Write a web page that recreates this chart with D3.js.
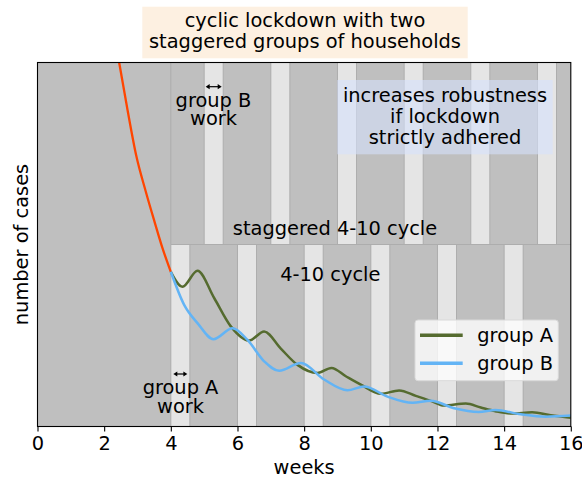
<!DOCTYPE html>
<html>
<head>
<meta charset="utf-8">
<script src="https://cdn.jsdelivr.net/npm/d3@7"></script>
<style>
  html, body { margin: 0; padding: 0; background: #ffffff; }
  svg { display: block; }
  text { font-family: "DejaVu Sans", sans-serif; fill: #000; }
</style>
</head>
<body>
<svg id="chart" width="582" height="479"></svg>
<script>
// ---------- data ----------
const weekTicks = [0, 2, 4, 6, 8, 10, 12, 14, 16];
const cycleStart = 4;                 // week when the cyclic lockdown begins
const workDays = 4;                   // 4-10 cycle: 4 days work, 10 days lockdown
const groupAWorkStarts = [4, 6, 8, 10, 12, 14];
const groupBWorkStarts = [5, 7, 9, 11, 13, 15];

const preWeeks = [2.0, 2.2, 2.45, 2.7, 2.96, 3.25, 3.51, 3.75, 4.0];
const preCases = [128, 114, 100, 87, 74.5, 64.5, 56.3, 49, 42.5];

const groupAWeeks = [4.0, 4.35, 4.8, 5.3, 5.8, 6.35, 6.8, 7.3, 7.79, 8.4, 8.82, 9.25, 9.7, 10.3, 10.85, 11.35, 11.84, 12.19, 12.85, 13.3, 13.74, 14.24, 14.84, 15.4, 16.0];
const groupACases = [42.5, 38.4, 42.8, 35.3, 27.5, 23.6, 26.1, 21.4, 17.0, 14.7, 16.1, 13.8, 11.5, 9.0, 9.9, 8.4, 6.9, 5.75, 6.3, 5.2, 4.2, 3.56, 3.9, 3.1, 2.4];

const groupBWeeks = [4.0, 4.4, 4.8, 5.28, 5.85, 6.3, 6.8, 7.25, 7.9, 8.6, 9.3, 9.8, 10.5, 11.25, 11.8, 12.5, 13.24, 13.74, 14.5, 15.24, 16.0];
const groupBCases = [42.5, 33.4, 28.4, 24.0, 27.0, 23.8, 17.9, 15.3, 17.45, 12.9, 9.95, 11.0, 8.2, 6.5, 7.1, 5.0, 4.0, 4.5, 3.35, 2.7, 3.0];

const seriesNames = ["group A", "group B"];
const titleLines = ["cyclic lockdown with two", "staggered groups of households"];
const noteLines = ["increases robustness", "if lockdown", "strictly adhered"];

// ---------- layout ----------
const svg = d3.select("#chart");
const m = { left: 37.5, right: 570.8, top: 62.5, bottom: 426.5 };
const fs = 19.4;
const colors = { pre: "#ff4500", A: "#556b2f", B: "#63b4f5", gray: "#bfbfbf", light: "#e5e5e5", edge: "#adadad" };

const x = d3.scaleLinear().domain([0, 16]).range([m.left, m.right]);
const y = d3.scaleLinear().domain([0, 100]).range([m.bottom, m.top]);
const mid = (m.top + m.bottom) / 2;
const workLen = workDays / 7;

// clip
svg.append("defs").append("clipPath").attr("id", "plotclip")
  .append("rect").attr("x", m.left).attr("y", m.top)
  .attr("width", m.right - m.left).attr("height", m.bottom - m.top);

const bg = svg.append("g");
bg.append("rect").attr("x", m.left).attr("y", m.top)
  .attr("width", m.right - m.left).attr("height", m.bottom - m.top)
  .attr("fill", colors.gray);

// group A work stripes (lower half)
bg.selectAll(".stripeA").data(groupAWorkStarts).join("rect")
  .attr("x", d => x(d)).attr("width", d => x(d + workLen) - x(d))
  .attr("y", mid).attr("height", m.bottom - mid)
  .attr("fill", colors.light);
// group B work stripes (upper half)
bg.selectAll(".stripeB").data(groupBWorkStarts).join("rect")
  .attr("x", d => x(d)).attr("width", d => x(d + workLen) - x(d))
  .attr("y", m.top).attr("height", mid - m.top)
  .attr("fill", colors.light);

// stripe edges
const edgeA = groupAWorkStarts.flatMap(d => [d, d + workLen]);
const edgeB = groupBWorkStarts.flatMap(d => [d, d + workLen]);
bg.selectAll(".edgeA").data(edgeA).join("line")
  .attr("x1", d => x(d)).attr("x2", d => x(d)).attr("y1", mid).attr("y2", m.bottom)
  .attr("stroke", colors.edge).attr("stroke-width", 1);
bg.selectAll(".edgeB").data(edgeB).join("line")
  .attr("x1", d => x(d)).attr("x2", d => x(d)).attr("y1", m.top).attr("y2", mid)
  .attr("stroke", colors.edge).attr("stroke-width", 1);
bg.append("line").attr("x1", x(cycleStart)).attr("x2", x(cycleStart))
  .attr("y1", m.top).attr("y2", mid).attr("stroke", colors.edge).attr("stroke-width", 1);
bg.append("line").attr("x1", x(cycleStart)).attr("x2", x(16))
  .attr("y1", mid).attr("y2", mid).attr("stroke", colors.edge).attr("stroke-width", 1);

// note box
const notes = svg.append("g");
notes.append("rect").attr("x", 337.3).attr("y", 80).attr("width", 215.4).attr("height", 74.3)
  .attr("fill", "#d6e1fb").attr("fill-opacity", 0.6);
noteLines.forEach((t, i) => {
  notes.append("text").attr("x", 445).attr("y", 101.7 + i * 21.3)
    .attr("text-anchor", "middle").attr("font-size", fs).text(t);
});

// region labels
svg.append("text").attr("x", 335).attr("y", 235).attr("text-anchor", "middle")
  .attr("font-size", fs).text("staggered 4-10 cycle");
svg.append("text").attr("x", 330.3).attr("y", 280.7).attr("text-anchor", "middle")
  .attr("font-size", fs).text("4-10 cycle");

// work annotations with double arrows
function workLabel(cx, arrowY, group, x0, x1) {
  const g = svg.append("g");
  g.append("line").attr("x1", x0 + 2).attr("x2", x1 - 2).attr("y1", arrowY).attr("y2", arrowY)
    .attr("stroke", "#000").attr("stroke-width", 1.2);
  g.append("path").attr("d", `M${x0},${arrowY} l4,-2.6 l0,5.2 z`).attr("fill", "#000");
  g.append("path").attr("d", `M${x1},${arrowY} l-4,-2.6 l0,5.2 z`).attr("fill", "#000");
  g.append("text").attr("x", cx).attr("y", arrowY + 20).attr("text-anchor", "middle")
    .attr("font-size", fs).text(group);
  g.append("text").attr("x", cx).attr("y", arrowY + 38.6).attr("text-anchor", "middle")
    .attr("font-size", fs).text("work");
}
workLabel(213.5, 86.7, "group B", x(groupBWorkStarts[0]) + 1.5, x(groupBWorkStarts[0] + workLen) - 1.5);
workLabel(180.5, 374, "group A", x(groupAWorkStarts[0]) + 2.5, x(groupAWorkStarts[0] + workLen) - 2.5);

// lines
const line = d3.line().x(d => x(d[0])).y(d => y(d[1])).curve(d3.curveMonotoneX);
const plot = svg.append("g").attr("clip-path", "url(#plotclip)");
plot.append("path").datum(d3.zip(preWeeks, preCases)).attr("d", line)
  .attr("fill", "none").attr("stroke", colors.pre).attr("stroke-width", 2.3);
plot.append("path").datum(d3.zip(groupAWeeks, groupACases)).attr("d", line)
  .attr("fill", "none").attr("stroke", colors.A).attr("stroke-width", 2.5);
plot.append("path").datum(d3.zip(groupBWeeks, groupBCases)).attr("d", line)
  .attr("fill", "none").attr("stroke", colors.B).attr("stroke-width", 2.5);

// legend
const leg = svg.append("g");
leg.append("rect").attr("x", 415).attr("y", 320).attr("width", 143.3).attr("height", 60.7)
  .attr("rx", 3).attr("fill", "#ffffff").attr("fill-opacity", 0.78)
  .attr("stroke", "#d9d9d9").attr("stroke-width", 1);
[colors.A, colors.B].forEach((c, i) => {
  const ly = 335.2 + i * 28;
  leg.append("line").attr("x1", 420).attr("x2", 462.7).attr("y1", ly).attr("y2", ly)
    .attr("stroke", c).attr("stroke-width", 3.5);
  leg.append("text").attr("x", 477.3).attr("y", ly + 7).attr("font-size", fs).text(seriesNames[i]);
});

// frame
svg.append("rect").attr("x", m.left).attr("y", m.top)
  .attr("width", m.right - m.left).attr("height", m.bottom - m.top)
  .attr("fill", "none").attr("stroke", "#000").attr("stroke-width", 1.1);

// x axis
const xAxis = d3.axisBottom(x).tickValues(weekTicks).tickFormat(d3.format("d"))
  .tickSize(5).tickPadding(5);
const ax = svg.append("g").attr("transform", `translate(0,${m.bottom})`).call(xAxis);
ax.select(".domain").remove();
ax.selectAll(".tick line").attr("stroke", "#000").attr("stroke-width", 1.1);
ax.selectAll(".tick text").attr("font-size", fs).attr("font-family", "DejaVu Sans, sans-serif")
  .attr("fill", "#000");

svg.append("text").attr("x", (m.left + m.right) / 2).attr("y", 474)
  .attr("text-anchor", "middle").attr("font-size", fs).text("weeks");
svg.append("text").attr("transform", `translate(28,${mid}) rotate(-90)`)
  .attr("text-anchor", "middle").attr("font-size", fs).text("number of cases");

// title
svg.append("rect").attr("x", 142.3).attr("y", 6.7).attr("width", 325.4).attr("height", 51.6)
  .attr("fill", "#fdf0e1");
titleLines.forEach((t, i) => {
  svg.append("text").attr("x", 305).attr("y", 26.7 + i * 21.6).attr("text-anchor", "middle")
    .attr("font-size", fs).text(t);
});
</script>
</body>
</html>
